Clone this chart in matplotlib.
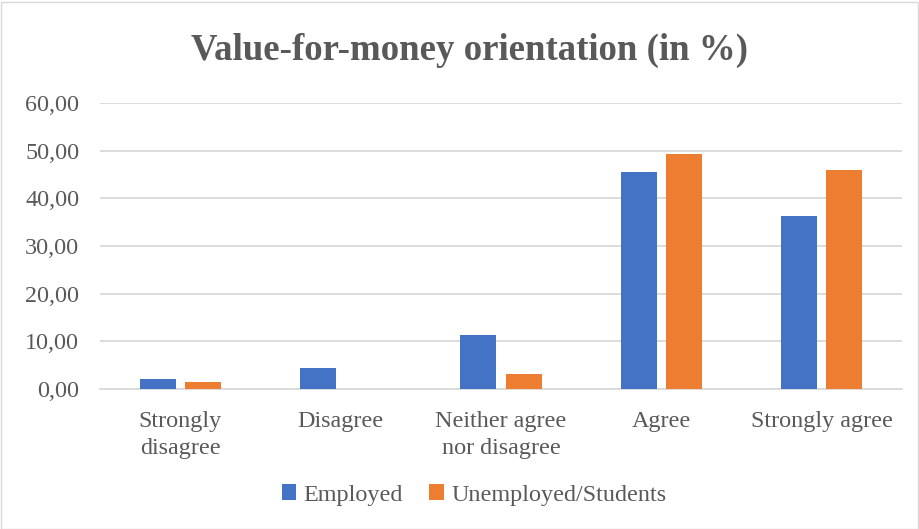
import matplotlib
matplotlib.use("Agg")
import matplotlib.pyplot as plt
import numpy as np
from matplotlib.patches import Rectangle

categories = ["Strongly\ndisagree", "Disagree", "Neither agree\nnor disagree", "Agree", "Strongly agree"]
employed = [2.1, 4.4, 11.3, 45.5, 36.3]
unemployed = [1.5, 0.0, 3.2, 49.2, 45.9]
series_names = ["Employed", "Unemployed/Students"]
yticks = [0, 10, 20, 30, 40, 50, 60]
ytick_labels = ["0,00", "10,00", "20,00", "30,00", "40,00", "50,00", "60,00"]

blue = "#4472C4"
orange = "#ED7D31"
text_gray = "#595959"
grid_gray = "#D9D9D9"

plt.rcParams["font.family"] = ["Liberation Serif", "DejaVu Serif"]

fig = plt.figure(figsize=(9.19, 5.29), dpi=100)
ax = fig.add_axes([100 / 919, 1 - 389 / 529, 802 / 919, (389 - 103) / 529])

x = np.arange(len(categories))
w = 0.225
off = 0.141
ax.bar(x - off, employed, w, color=blue, label=series_names[0], zorder=3)
ax.bar(x + off, unemployed, w, color=orange, label=series_names[1], zorder=3)

ax.set_xlim(-0.5, len(categories) - 0.5)
ax.set_ylim(0, 60)
ax.set_yticks(yticks)
ax.set_yticklabels(ytick_labels)
ax.yaxis.grid(True, color=grid_gray, linewidth=1.3, zorder=0)
ax.set_axisbelow(True)
for s in ["top", "right", "left"]:
    ax.spines[s].set_visible(False)
ax.spines["bottom"].set_color(grid_gray)
ax.spines["bottom"].set_linewidth(1.3)
ax.tick_params(axis="y", length=0, pad=15, labelsize=17.4, labelcolor=text_gray)
ax.tick_params(axis="x", length=0, pad=16, labelsize=17.4, labelcolor=text_gray)
ax.set_xticks(x)
ax.set_xticklabels(categories, linespacing=1.33, va="top")

fig.text(470 / 919, 1 - 50 / 529, "Value-for-money orientation (in %)", ha="center", va="center",
         fontsize=26.6, fontweight="bold", color=text_gray)

leg = fig.legend(loc="center", bbox_to_anchor=(474 / 919, 1 - 495 / 529), ncol=2, frameon=False,
                 fontsize=17.4, handlelength=0.6, handleheight=0.6, handletextpad=0.3,
                 columnspacing=1.1, labelcolor=text_gray)

fig.patches.append(Rectangle((0.5 / 919, 0.5 / 529), 917 / 919, 527 / 529, transform=fig.transFigure,
                             fill=False, edgecolor=grid_gray, linewidth=1.0))

fig.savefig("out.png", dpi=100)
